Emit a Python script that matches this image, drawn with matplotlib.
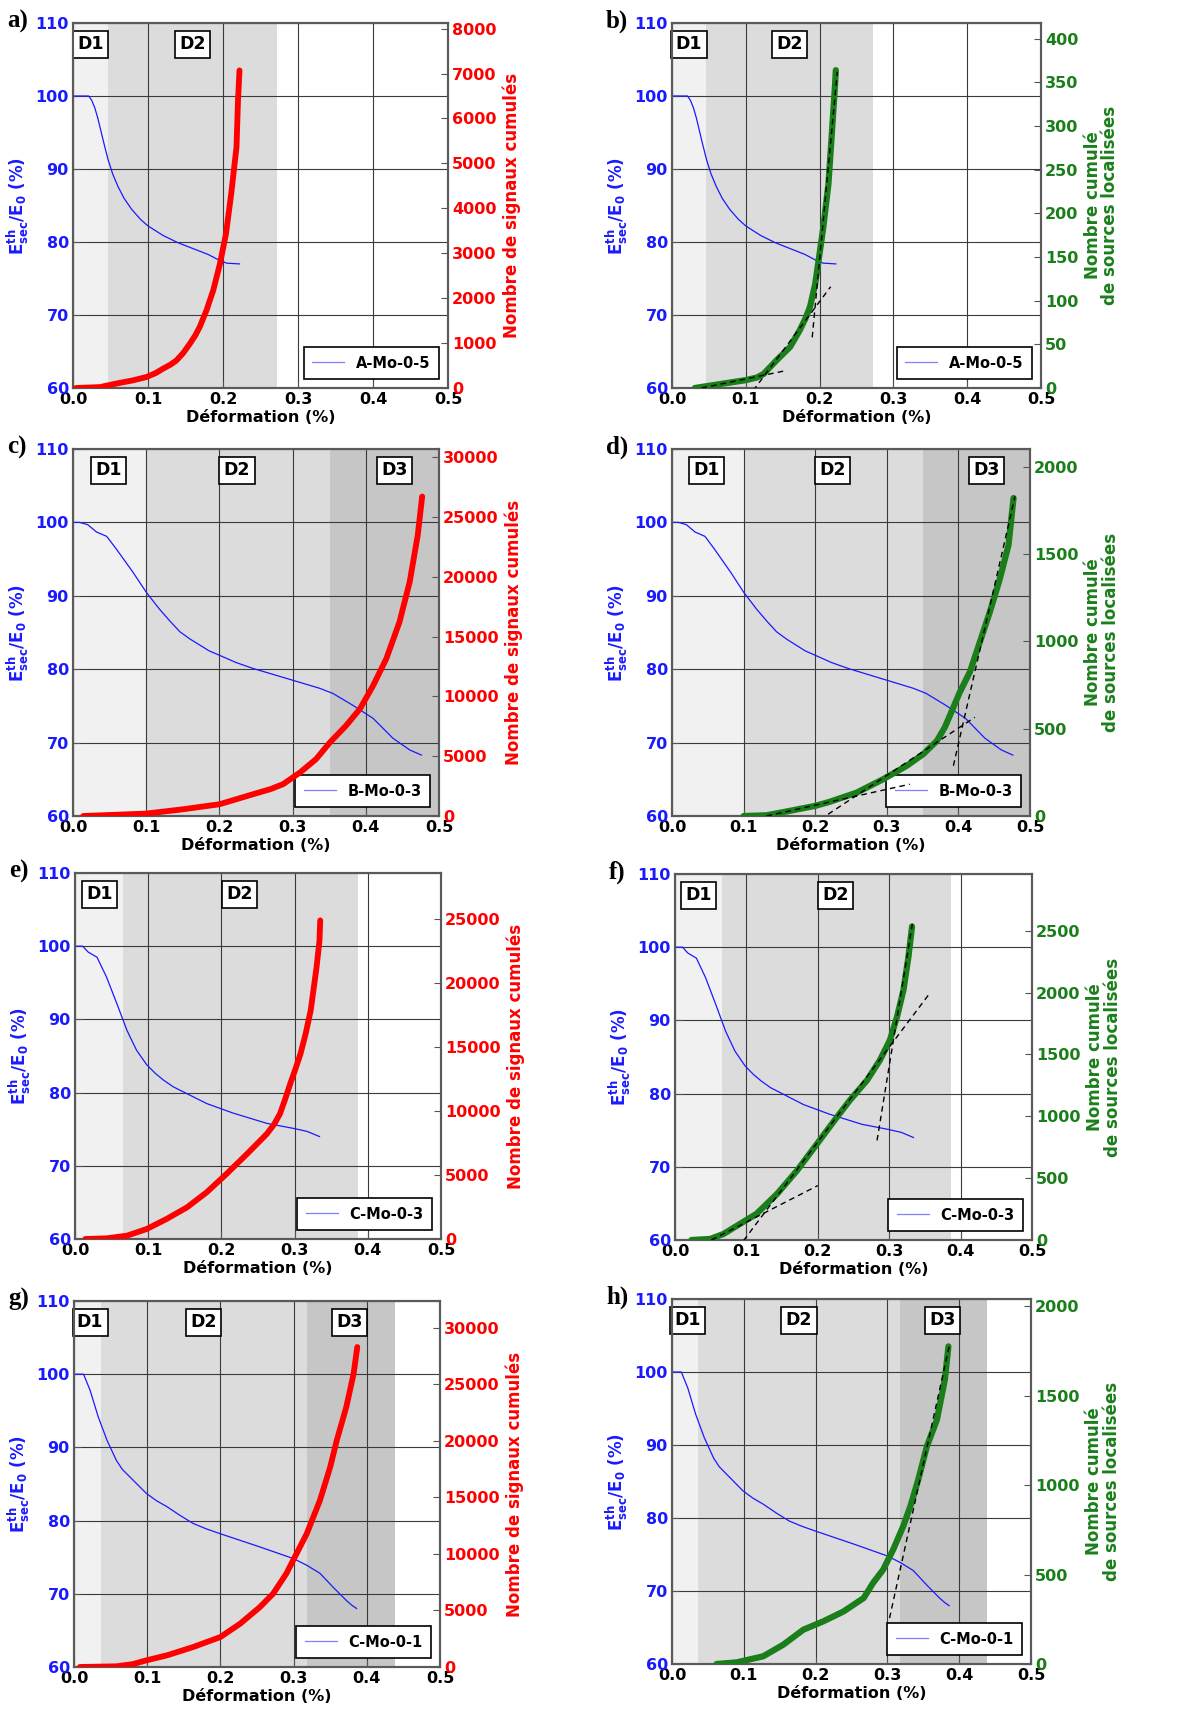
import matplotlib
matplotlib.use("Agg")
import matplotlib.pyplot as plt

plt.rcParams['font.family'] = ['DejaVu Sans']
plt.rcParams['font.weight'] = 'bold'
plt.rcParams['mathtext.fontset'] = 'dejavusans'
plt.rcParams['mathtext.default'] = 'bf'

# ---------------- data ----------------
x_ticks = [0.0, 0.1, 0.2, 0.3, 0.4, 0.5]
left_ticks = [60, 70, 80, 90, 100, 110]

# Specimen A-Mo-0-5 (panels a, b)
mod_A_x = [0, 0.021, 0.025, 0.029, 0.033, 0.037, 0.042, 0.047, 0.053, 0.06, 0.068, 0.078, 0.09, 0.1, 0.12, 0.14, 0.16, 0.18, 0.195, 0.205, 0.222]
mod_A_y = [100, 100, 99.4, 98.4, 97.0, 95.3, 93.2, 91.2, 89.3, 87.6, 86.0, 84.5, 83.1, 82.2, 80.9, 79.9, 79.1, 78.3, 77.5, 77.1, 77.0]
sig_A_x = [0.004, 0.036, 0.058, 0.08, 0.098, 0.11, 0.12, 0.13, 0.138, 0.147, 0.156, 0.163, 0.169, 0.178, 0.187, 0.196, 0.204, 0.211, 0.218, 0.22, 0.222]
sig_A_y = [0, 20, 100, 170, 245, 330, 430, 520, 615, 780, 990, 1170, 1360, 1730, 2175, 2770, 3435, 4330, 5365, 6400, 7070]
src_A_x = [0.031, 0.069, 0.1, 0.115, 0.124, 0.133, 0.142, 0.16, 0.173, 0.181, 0.187, 0.194, 0.2, 0.205, 0.212, 0.216, 0.221, 0.222]
src_A_y = [0, 5, 9, 12, 16, 24, 32, 47, 66, 80, 93, 119, 154, 184, 234, 284, 348, 364]
fits_b = [([0.04, 0.155], [0, 20]), ([0.11, 0.215], [-3, 116]), ([0.19, 0.224], [58, 362])]

# Specimen B-Mo-0-3 (panels c, d)
mod_B_x = [0, 0.009, 0.02, 0.032, 0.046, 0.059, 0.082, 0.1, 0.118, 0.132, 0.146, 0.16, 0.173, 0.186, 0.2, 0.223, 0.246, 0.3, 0.337, 0.355, 0.382, 0.41, 0.437, 0.46, 0.476]
mod_B_y = [100, 100, 99.7, 98.7, 98.1, 96.4, 93.2, 90.5, 88.2, 86.6, 85.1, 84.1, 83.3, 82.5, 81.9, 80.9, 80.1, 78.5, 77.4, 76.7, 75.1, 73.3, 70.6, 69.0, 68.3]
sig_B_x = [0.014, 0.1, 0.15, 0.2, 0.246, 0.27, 0.287, 0.31, 0.332, 0.351, 0.373, 0.392, 0.41, 0.428, 0.446, 0.46, 0.471, 0.477]
sig_B_y = [0, 200, 560, 980, 1820, 2250, 2660, 3630, 4750, 6150, 7550, 8950, 10900, 13140, 16210, 19570, 23480, 26700]
src_B_x = [0.1, 0.132, 0.164, 0.2, 0.22, 0.258, 0.295, 0.328, 0.351, 0.37, 0.381, 0.39, 0.402, 0.416, 0.43, 0.444, 0.458, 0.47, 0.474, 0.477]
src_B_y = [0, 4, 29, 58, 81, 134, 211, 288, 355, 431, 508, 594, 710, 825, 997, 1170, 1361, 1553, 1707, 1822]
fits_d = [([0.132, 0.332], [0, 182]), ([0.218, 0.423], [10, 566]), ([0.393, 0.479], [288, 1831])]

# Specimen C-Mo-0-3 (panels e, f)
mod_C3_x = [0, 0.0105, 0.018, 0.03, 0.043, 0.057, 0.071, 0.084, 0.098, 0.11, 0.121, 0.134, 0.148, 0.164, 0.18, 0.216, 0.262, 0.299, 0.317, 0.334]
mod_C3_y = [100, 100, 99.2, 98.5, 95.8, 92.2, 88.5, 85.8, 83.8, 82.6, 81.7, 80.8, 80.1, 79.3, 78.5, 77.2, 75.8, 75.1, 74.7, 74.0]
sig_C3_x = [0.014, 0.043, 0.071, 0.098, 0.125, 0.153, 0.18, 0.207, 0.235, 0.262, 0.272, 0.28, 0.287, 0.294, 0.301, 0.308, 0.315, 0.322, 0.33, 0.334, 0.335]
sig_C3_y = [0, 50, 260, 780, 1560, 2470, 3650, 5080, 6640, 8200, 8950, 9770, 10900, 12110, 13250, 14450, 16000, 17840, 21220, 23300, 24870]
src_C3_x = [0.023, 0.049, 0.068, 0.091, 0.114, 0.143, 0.171, 0.199, 0.227, 0.245, 0.269, 0.287, 0.301, 0.311, 0.32, 0.327, 0.332]
src_C3_y = [0, 8, 49, 130, 211, 373, 562, 778, 995, 1130, 1292, 1454, 1616, 1805, 2022, 2292, 2535]
fits_f = [([0.051, 0.2], [0, 440]), ([0.096, 0.355], [-5, 1981]), ([0.283, 0.333], [805, 2576])]

# Specimen C-Mo-0-1 (panels g, h)
mod_C1_x = [0, 0.013, 0.022, 0.033, 0.045, 0.058, 0.066, 0.076, 0.087, 0.099, 0.113, 0.127, 0.145, 0.163, 0.18, 0.2, 0.254, 0.3, 0.318, 0.336, 0.354, 0.372, 0.38, 0.386]
mod_C1_y = [100, 100, 97.8, 94.2, 91, 88.2, 87.0, 86, 84.9, 83.7, 82.7, 81.9, 80.7, 79.6, 78.9, 78.2, 76.4, 74.8, 73.9, 72.8, 70.9, 69.1, 68.4, 68.0]
sig_C1_x = [0.008, 0.058, 0.08, 0.099, 0.127, 0.163, 0.2, 0.227, 0.254, 0.272, 0.29, 0.304, 0.318, 0.336, 0.35, 0.359, 0.372, 0.382, 0.387]
sig_C1_y = [0, 60, 250, 590, 1030, 1770, 2650, 3830, 5300, 6480, 8250, 10020, 11790, 14740, 17680, 20040, 22990, 25940, 28290]
src_C1_x = [0.062, 0.09, 0.127, 0.155, 0.183, 0.211, 0.239, 0.267, 0.28, 0.294, 0.308, 0.322, 0.332, 0.343, 0.355, 0.369, 0.38, 0.385]
src_C1_y = [0, 9, 43, 108, 192, 239, 294, 369, 453, 527, 639, 770, 882, 1031, 1217, 1366, 1590, 1776]
fits_h = [([0.303, 0.387], [257, 1795])]

# domain boundaries (strain %)
domains_A = [0.0467, 0.272]
domains_B = [0.1, 0.351, 0.5]
domains_C3 = [0.066, 0.386]
domains_C1 = [0.0364, 0.318, 0.4385]

# domain label positions
labels_A = [("D1", 0.023), ("D2", 0.159)]
labels_B = [("D1", 0.048), ("D2", 0.224), ("D3", 0.439)]
labels_C3 = [("D1", 0.033), ("D2", 0.225)]
labels_C1 = [("D1", 0.022), ("D2", 0.177), ("D3", 0.377)]

right_ticks_a = [0, 1000, 2000, 3000, 4000, 5000, 6000, 7000, 8000]
right_ticks_b = [0, 50, 100, 150, 200, 250, 300, 350, 400]
right_ticks_c = [0, 5000, 10000, 15000, 20000, 25000, 30000]
right_ticks_d = [0, 500, 1000, 1500, 2000]
right_ticks_e = [0, 5000, 10000, 15000, 20000, 25000]
right_ticks_f = [0, 500, 1000, 1500, 2000, 2500]
right_ticks_g = [0, 5000, 10000, 15000, 20000, 25000, 30000]
right_ticks_h = [0, 500, 1000, 1500, 2000]

right_top = {'a': 8126, 'b': 418, 'c': 30670, 'd': 2103, 'e': 28570, 'f': 2959, 'g': 32360, 'h': 2041}

# ---------------- figure ----------------
W, H = 1183, 1710
fig = plt.figure(figsize=(W / 100, H / 100), dpi=100)

# axes boxes in pixels: left, top, right, bottom
boxes = {
    'a': (73, 23, 448, 388), 'b': (672, 23, 1041, 388),
    'c': (73, 449, 439, 816), 'd': (672, 449, 1030, 816),
    'e': (75, 873, 441, 1239), 'f': (675, 874, 1032, 1240),
    'g': (74, 1301, 440, 1667), 'h': (672, 1299, 1031, 1664),
}
shade_cols = ['#f1f1f1', '#dcdcdc', '#c6c6c6']
GREEN = '#1a7f1a'
RED = '#ff0000'
BLUE = '#1a1aff'
TICK_FS = 11.5
LABEL_FS = 12


def panel(key, mod_x, mod_y, cx, cy, domains, labels, legend, kind, rticks, fits=()):
    l, t, r, b = boxes[key]
    ax = fig.add_axes([l / W, 1 - b / H, (r - l) / W, (b - t) / H])
    prev = 0.0
    for i, d in enumerate(domains):
        ax.axvspan(prev, d, color=shade_cols[i], lw=0, zorder=0)
        prev = d
    ax.set_xlim(0, 0.5)
    ax.set_ylim(60, 110)
    ax.set_xticks(x_ticks)
    ax.set_xticklabels(['%.1f' % v for v in x_ticks], fontsize=TICK_FS, fontweight='bold')
    ax.set_yticks(left_ticks)
    ax.set_yticklabels([str(v) for v in left_ticks], fontsize=TICK_FS, fontweight='bold', color=BLUE)
    ax.grid(True, color='#3a3a3a', linewidth=0.8, linestyle='-')
    ax.tick_params(direction='in', length=5, color='#555555', pad=3)
    for s in ax.spines.values():
        s.set_color('#5a5a5a')
        s.set_linewidth(1.5)
    ax.set_xlabel('Déformation (%)', fontsize=LABEL_FS - 0.5, fontweight='bold', labelpad=2)
    ax.set_ylabel(r'$E^{th}_{sec}/E_0$ (%)', fontsize=LABEL_FS, fontweight='bold', color=BLUE, labelpad=3)
    line, = ax.plot(mod_x, mod_y, color=BLUE, lw=0.9, label=legend, zorder=3)
    for txt, xp in labels:
        ax.text(xp, 107.1, txt, ha='center', va='center', fontsize=12.5, fontweight='bold',
                bbox=dict(boxstyle='square,pad=0.25', fc='white', ec='black', lw=1.2), zorder=5)
    leg = ax.legend(handles=[line], loc='lower right', fancybox=False, framealpha=1,
                    edgecolor='black', prop={'weight': 'bold', 'size': 10.5},
                    handlelength=2.2, borderaxespad=0.6, borderpad=0.6)
    leg.get_frame().set_linewidth(1.2)
    leg.get_lines()[0].set_alpha(0.55)

    ax2 = ax.twinx()
    ax2.set_ylim(0, right_top[key])
    ax2.set_yticks(rticks)
    if kind == 'sig':
        col = RED
        ax2.plot(cx, cy, color=col, lw=4.2, solid_capstyle='round', solid_joinstyle='round', zorder=4)
        ax2.set_ylabel('Nombre de signaux cumulés', fontsize=LABEL_FS, fontweight='bold', color=col, labelpad=4)
    else:
        col = GREEN
        ax2.plot(cx, cy, color=col, lw=4.5, solid_capstyle='round', solid_joinstyle='round', zorder=4)
        for fx, fy in fits:
            ax2.plot(fx, fy, color='black', lw=1.0, linestyle=(0, (4, 3)), zorder=5)
        ax2.set_ylabel('Nombre cumulé\nde sources localisées', fontsize=LABEL_FS, fontweight='bold',
                       color=col, labelpad=4, linespacing=0.95)
    ax2.set_yticklabels([str(v) for v in rticks], fontsize=TICK_FS, fontweight='bold', color=col)
    ax2.tick_params(direction='in', length=5, color='#555555', pad=3)
    for s in ax2.spines.values():
        s.set_color('#5a5a5a')
        s.set_linewidth(1.5)
    fig.text((l - 66) / W, 1 - (t - 2) / H, key + ')', fontsize=18, fontweight='bold',
             family='Liberation Serif', ha='left', va='center')
    return ax, ax2


panel('a', mod_A_x, mod_A_y, sig_A_x, sig_A_y, domains_A, labels_A, 'A-Mo-0-5', 'sig', right_ticks_a)
panel('b', mod_A_x, mod_A_y, src_A_x, src_A_y, domains_A, labels_A, 'A-Mo-0-5', 'src', right_ticks_b, fits_b)
panel('c', mod_B_x, mod_B_y, sig_B_x, sig_B_y, domains_B, labels_B, 'B-Mo-0-3', 'sig', right_ticks_c)
panel('d', mod_B_x, mod_B_y, src_B_x, src_B_y, domains_B, labels_B, 'B-Mo-0-3', 'src', right_ticks_d, fits_d)
panel('e', mod_C3_x, mod_C3_y, sig_C3_x, sig_C3_y, domains_C3, labels_C3, 'C-Mo-0-3', 'sig', right_ticks_e)
panel('f', mod_C3_x, mod_C3_y, src_C3_x, src_C3_y, domains_C3, labels_C3, 'C-Mo-0-3', 'src', right_ticks_f, fits_f)
panel('g', mod_C1_x, mod_C1_y, sig_C1_x, sig_C1_y, domains_C1, labels_C1, 'C-Mo-0-1', 'sig', right_ticks_g)
panel('h', mod_C1_x, mod_C1_y, src_C1_x, src_C1_y, domains_C1, labels_C1, 'C-Mo-0-1', 'src', right_ticks_h, fits_h)

fig.savefig('out.png', dpi=100)
